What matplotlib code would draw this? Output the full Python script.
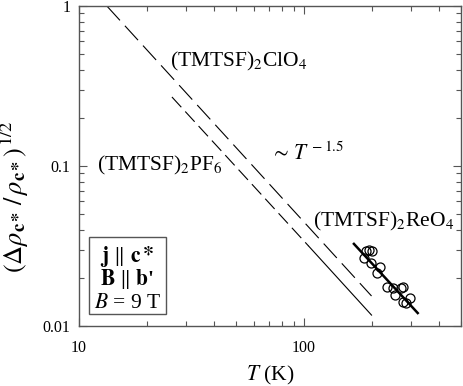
import numpy as np
import matplotlib
matplotlib.use("Agg")
import matplotlib.pyplot as plt
from matplotlib.ticker import LogLocator, NullFormatter
from matplotlib.patches import Rectangle

plt.rcParams['font.family'] = ['Liberation Serif', 'DejaVu Serif']
plt.rcParams['mathtext.fontset'] = 'stix'
plt.rcParams['lines.scale_dashes'] = False

# (TMTSF)2ClO4 curve (long dashes)
clo4_T = [13.3, 200]
clo4_y = [1.0, 0.0154]

# (TMTSF)2PF6 curve: dashed part, then solid part
pf6_T_dash = [25.9, 105]
pf6_y_dash = [0.27, 0.0316]
pf6_T_solid = [105, 200]
pf6_y_solid = [0.0316, 0.0117]

# (TMTSF)2ReO4 data points
reo4_T = [188.6, 195.1, 202.0, 184.8, 198.5, 217.6, 211.8, 233.2,
          248.7, 269.9, 276.3, 253.8, 276.3, 295.9, 286.0]
reo4_y = [0.0296, 0.0299, 0.0296, 0.0265, 0.0249, 0.0235, 0.0213, 0.0176,
          0.0172, 0.0172, 0.0176, 0.0156, 0.0142, 0.0149, 0.0139]

# fit line through ReO4 data
fit_T = [167, 321]
fit_y = [0.0326, 0.01205]

xticks = [10, 100]
xtick_labels = ['10', '100']
yticks = [0.01, 0.1, 1]
ytick_labels = ['0.01', '0.1', '1']

fig = plt.figure(figsize=(4.63, 3.86), dpi=100)
ax = fig.add_axes([79/463, 60/386, 382/463, 320/386])

ax.plot(clo4_T, clo4_y, color='black', lw=0.8, dashes=(14, 5.3))
ax.plot(pf6_T_dash, pf6_y_dash, color='black', lw=0.8, dashes=(10, 4.2))
ax.plot(pf6_T_solid, pf6_y_solid, color='black', lw=0.8)
ax.plot(fit_T, fit_y, color='black', lw=1.8)
ax.plot(reo4_T, reo4_y, 'o', mfc='none', mec='black', ms=6.5, mew=0.9)

ax.set_xscale('log')
ax.set_yscale('log')
ax.set_xlim(10, 500)
ax.set_ylim(0.01, 1)

ax.set_xticks(xticks)
ax.set_xticklabels(xtick_labels)
ax.set_yticks(yticks)
ax.set_yticklabels(ytick_labels)
ax.xaxis.set_minor_locator(LogLocator(base=10, subs=np.arange(2, 10)))
ax.yaxis.set_minor_locator(LogLocator(base=10, subs=np.arange(2, 10)))
ax.xaxis.set_minor_formatter(NullFormatter())
ax.yaxis.set_minor_formatter(NullFormatter())

ax.tick_params(which='both', direction='in', top=True, right=True,
               color='#555555', labelsize=11.5)
ax.tick_params(which='major', length=6, width=0.8)
ax.tick_params(which='minor', length=3.5, width=0.8)
ax.tick_params(axis='x', pad=10)
ax.tick_params(axis='y', pad=6)
for s in ax.spines.values():
    s.set_color('#555555')
    s.set_linewidth(1.0)

ax.set_xlabel(r'$T$ (K)', fontsize=15.5)
ax.xaxis.set_label_coords(0.5, -0.12)
ax.set_ylabel(r'$(\Delta\rho_{\mathbf{c*}}\,/\,\rho_{\mathbf{c*}})^{\,1/2}$',
              fontsize=19, ha='center', va='center')
ax.yaxis.set_label_coords(-0.168, 0.405)

# labels in the plot
ax.text(0.238, 0.810, r'(TMTSF)$_2$ClO$_4$', transform=ax.transAxes,
        fontsize=15.5, va='baseline')
ax.text(0.046, 0.4875, r'(TMTSF)$_2$PF$_6$', transform=ax.transAxes,
        fontsize=15.5, va='baseline')
ax.text(0.5, 0.519, r'$\sim\,T^{\,-1.5}$', transform=ax.transAxes,
        fontsize=15.5, va='baseline')
ax.text(0.613, 0.310, r'(TMTSF)$_2$ReO$_4$', transform=ax.transAxes,
        fontsize=15.5, va='baseline')

# box with conditions
ax.add_patch(Rectangle((0.027, 0.0366), 0.2, 0.24, transform=ax.transAxes,
                       fill=False, edgecolor='#555555', lw=1.0))
ax.text(0.126, 0.201, r'$\mathbf{j}\ \|\ \mathbf{c*}$', transform=ax.transAxes,
        fontsize=15.5, ha='center', va='baseline')
ax.text(0.126, 0.128, r"$\mathbf{B}\ \|\ \mathbf{b}$'", transform=ax.transAxes,
        fontsize=15.5, ha='center', va='baseline', fontweight='bold')
ax.text(0.126, 0.056, r'$B$ = 9 T', transform=ax.transAxes,
        fontsize=15.5, ha='center', va='baseline')

fig.savefig('out.png', dpi=100)
